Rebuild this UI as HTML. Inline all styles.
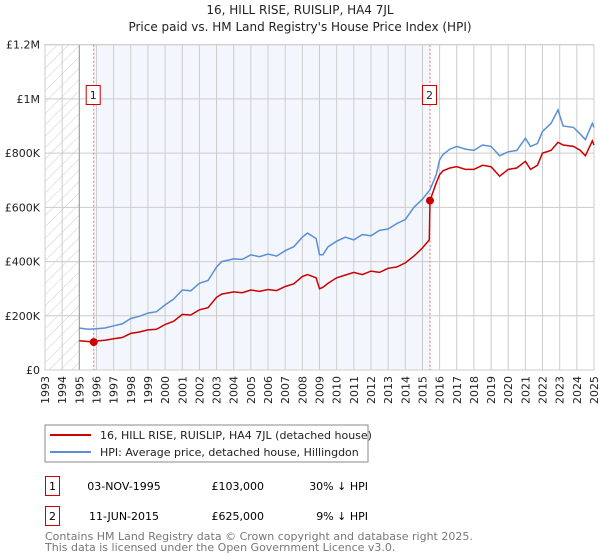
<!DOCTYPE html>
<html><head><meta charset="utf-8"><style>
body{margin:0;background:#fff;font-family:"DejaVu Sans","Liberation Sans",sans-serif;}
#wrap{position:relative;width:600px;height:560px;overflow:hidden;}
</style></head><body><div id="wrap">
<svg id="svg" width="600" height="560" xmlns="http://www.w3.org/2000/svg" font-family="DejaVu Sans, Liberation Sans, sans-serif">
<defs><pattern id="hatch" patternUnits="userSpaceOnUse" width="8" height="8" patternTransform="rotate(45)"><line x1="0" y1="0" x2="0" y2="8" stroke="#ccc" stroke-width="1"/></pattern></defs>
<text x="300" y="14" text-anchor="middle" font-size="12" fill="#222">16, HILL RISE, RUISLIP, HA4 7JL</text>
<text x="300" y="31" text-anchor="middle" font-size="12" fill="#222">Price paid vs. HM Land Registry's House Price Index (HPI)</text>
<g id="plot"></g>
<rect x="45" y="425" width="323" height="37" fill="#fff" stroke="#888"/>
<line x1="50" y1="435" x2="91" y2="435" stroke="#cc0000" stroke-width="2"/>
<text x="100" y="439" font-size="11" fill="#222">16, HILL RISE, RUISLIP, HA4 7JL (detached house)</text>
<line x1="50" y1="452" x2="91" y2="452" stroke="#5b8fd4" stroke-width="2"/>
<text x="100" y="456" font-size="11" fill="#222">HPI: Average price, detached house, Hillingdon</text>
<rect x="45.5" y="476.5" width="14" height="19" fill="#fff" stroke="#cc0000"/>
<text x="52.5" y="490" text-anchor="middle" font-size="11">1</text>
<text x="124" y="490" text-anchor="middle" font-size="11">03-NOV-1995</text>
<text x="264" y="490" text-anchor="end" font-size="11">£103,000</text>
<text x="368" y="490" text-anchor="end" font-size="11">30% ↓ HPI</text>
<rect x="45.5" y="506.5" width="14" height="19" fill="#fff" stroke="#cc0000"/>
<text x="52.5" y="520" text-anchor="middle" font-size="11">2</text>
<text x="124" y="520" text-anchor="middle" font-size="11">11-JUN-2015</text>
<text x="264" y="520" text-anchor="end" font-size="11">£625,000</text>
<text x="368" y="520" text-anchor="end" font-size="11">9% ↓ HPI</text>
<text x="45" y="540" font-size="11" fill="#777">Contains HM Land Registry data © Crown copyright and database right 2025.</text>
<text x="45" y="551" font-size="11" fill="#777">This data is licensed under the Open Government Licence v3.0.</text>
</svg></div>
<script>
const yTicks=[0,200,400,600,800,1000,1200];
const yTickLabels=["£0","£200K","£400K","£600K","£800K","£1M","£1.2M"];
const xYears=[1993,1994,1995,1996,1997,1998,1999,2000,2001,2002,2003,2004,2005,2006,2007,2008,2009,2010,2011,2012,2013,2014,2015,2016,2017,2018,2019,2020,2021,2022,2023,2024,2025];
const hpiT=[1995,1995.5,1996,1996.5,1997,1997.5,1998,1998.5,1999,1999.5,2000,2000.5,2001,2001.5,2002,2002.5,2003,2003.3,2004,2004.5,2005,2005.5,2006,2006.5,2007,2007.5,2008,2008.3,2008.8,2009.0,2009.2,2009.5,2010,2010.5,2011,2011.5,2012,2012.5,2013,2013.5,2014,2014.5,2015,2015.44,2015.8,2016,2016.2,2016.6,2017,2017.5,2018,2018.5,2019,2019.5,2020,2020.5,2021,2021.3,2021.7,2022,2022.5,2022.9,2023.2,2023.8,2024.2,2024.5,2024.9,2025];
const hpiV=[155,150,152,155,163,170,190,198,210,215,240,262,295,292,320,330,380,400,410,408,425,418,428,420,440,455,490,505,485,425,425,455,475,490,480,500,495,515,520,540,555,600,630,665,720,775,795,815,825,815,810,830,825,790,805,810,855,825,835,880,910,960,900,895,870,850,910,895];
const redT=[1995,1995.5,1995.84,1996,1996.5,1997,1997.5,1998,1998.5,1999,1999.5,2000,2000.5,2001,2001.5,2002,2002.5,2003,2003.3,2004,2004.5,2005,2005.5,2006,2006.5,2007,2007.5,2008,2008.3,2008.8,2009.0,2009.2,2009.5,2010,2010.5,2011,2011.5,2012,2012.5,2013,2013.5,2014,2014.5,2015,2015.4,2015.44,2015.8,2016,2016.2,2016.6,2017,2017.5,2018,2018.5,2019,2019.5,2020,2020.5,2021,2021.3,2021.7,2022,2022.5,2022.9,2023.2,2023.8,2024.2,2024.5,2024.9,2025];
const redV=[108,105,103,107,110,115,120,135,140,148,150,168,180,205,203,222,230,268,280,288,285,295,290,297,293,308,318,345,352,340,300,305,320,340,350,360,352,365,360,375,380,395,420,450,480,625,690,720,735,745,750,740,740,755,750,715,740,745,770,740,755,800,810,840,830,825,810,790,845,830];
const sales=[[1995.84,103,"1"],[2015.44,625,"2"]];
const NS="http://www.w3.org/2000/svg";
const L=45,R=594,T=44.7,B=370;
const xs=t=>L+(t-1993)*(R-L)/32;
const ys=v=>B-v*(B-T)/1200;
const g=document.getElementById('plot');
function mk(tag,at,parent){const e=document.createElementNS(NS,tag);for(const k in at)e.setAttribute(k,at[k]);(parent||g).appendChild(e);return e;}
let e;
e=mk('rect',{x:L,y:T,width:R-L,height:B-T,fill:'#fff'});


e=mk('rect',{x:xs(1995.84),y:T,width:xs(2015.44)-xs(1995.84),height:B-T,fill:'#eef3fc',opacity:0.7});


e=mk('rect',{x:L,y:T,width:xs(1995)-L,height:B-T,fill:'url(#hatch)'});


xYears.forEach(y=>{
 e=mk('line',{x1:xs(y),x2:xs(y),y1:T,y2:B,stroke:'#ccc','stroke-width':1});
 
 
 e=mk('text',{transform:`translate(${xs(y)+4},${B+6}) rotate(-90)`,'text-anchor':'end','font-size':11,fill:'#222'});
 e.textContent=y;
 
 
});
yTicks.forEach((v,i)=>{
 e=mk('line',{x1:L,x2:R,y1:ys(v),y2:ys(v),stroke:'#ccc','stroke-width':1});
 
 
 e=mk('text',{x:L-5,y:ys(v)+4,'text-anchor':'end','font-size':11,fill:'#222'});
 e.textContent=yTickLabels[i];
 
 
});
e=mk('line',{x1:xs(1995),x2:xs(1995),y1:T,y2:B,stroke:'#999'});


e=mk('rect',{x:L,y:T,width:R-L,height:B-T,fill:'none',stroke:'#ccc'});


sales.forEach(s=>{
 e=mk('line',{x1:xs(s[0]),x2:xs(s[0]),y1:T,y2:B,stroke:'#f07070','stroke-dasharray':'2,2'});
 
 
});
function path(T_,V_){return T_.map((t,i)=>(i?'L':'M')+xs(t).toFixed(1)+','+ys(V_[i]).toFixed(1)).join('');}
e=mk('path',{d:path(hpiT,hpiV),fill:'none',stroke:'#5b8fd4','stroke-width':1.5});


e=mk('path',{d:path(redT,redV),fill:'none',stroke:'#cc0000','stroke-width':1.5});


sales.forEach(s=>{
 e=mk('circle',{cx:xs(s[0]),cy:ys(s[1]),r:4,fill:'#cc0000'});
 
 
 e=mk('rect',{x:xs(s[0])-7.5,y:85.5,width:14,height:19,fill:'#fff',stroke:'#cc0000'});
 
 
 e=mk('text',{x:xs(s[0])-0.5,y:99,'text-anchor':'middle','font-size':11,fill:'#222'});
 e.textContent=s[2];
 
 
});
</script></body></html>
